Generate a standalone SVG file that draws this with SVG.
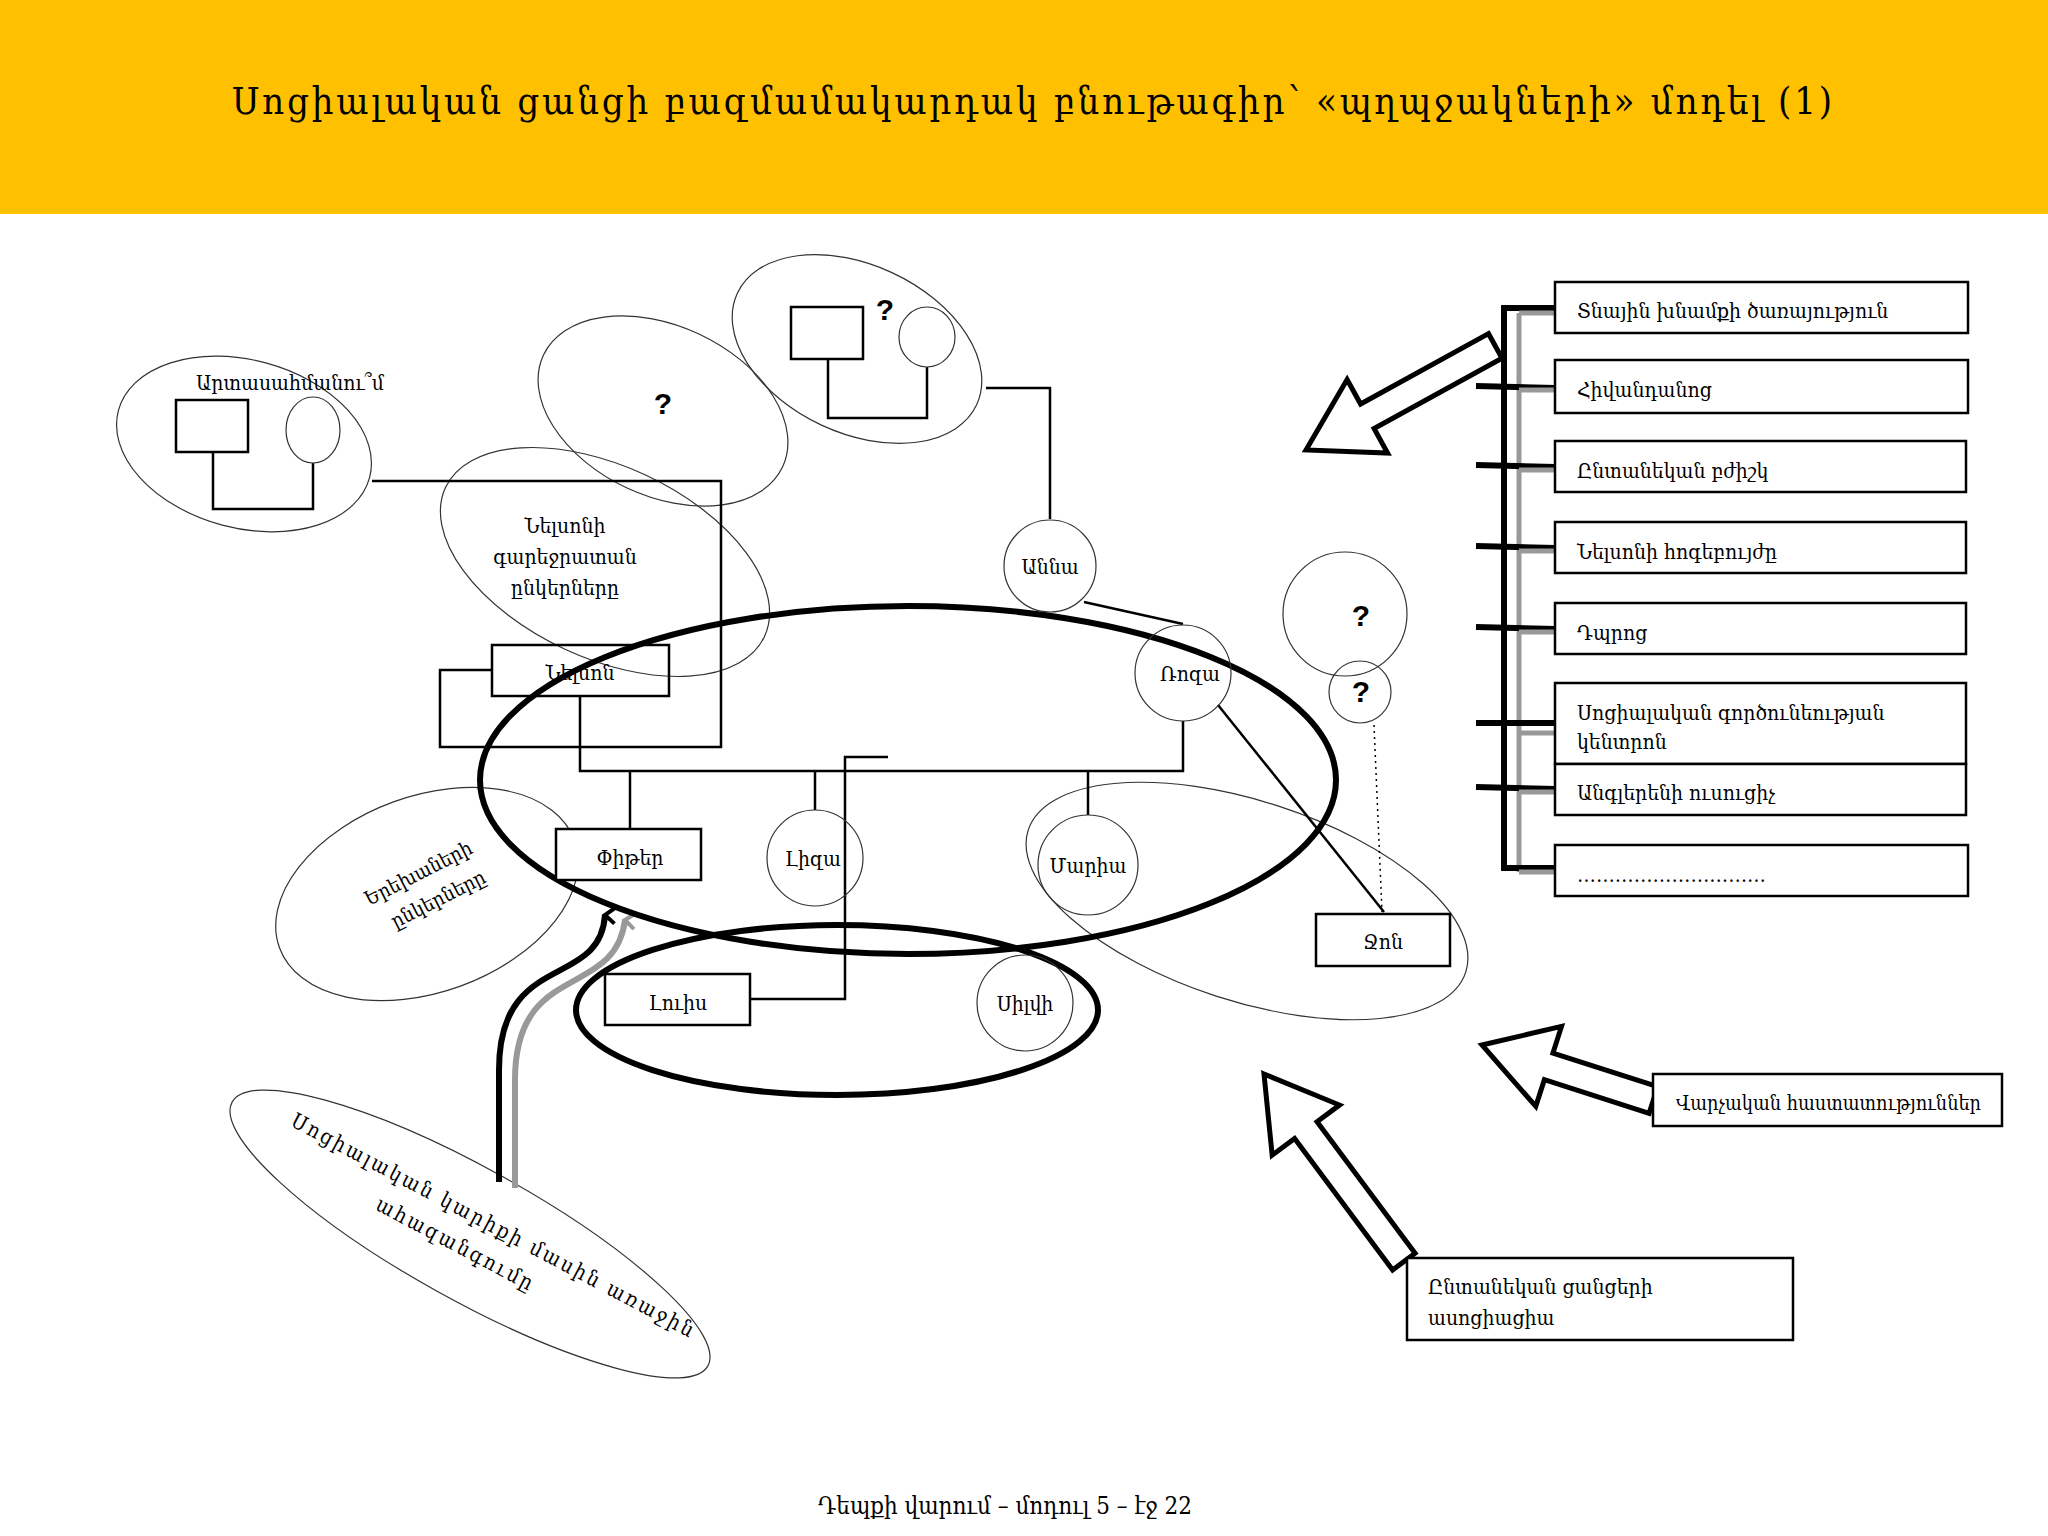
<svg xmlns="http://www.w3.org/2000/svg" width="2048" height="1536" viewBox="0 0 2048 1536">
<style>
.t{font-family:"DejaVu Serif Condensed","DejaVu Serif","Noto Sans",serif;fill:#000}
.thin{fill:none;stroke:#333;stroke-width:1.2}
.ln{fill:none;stroke:#000;stroke-width:2.5}
.bx{fill:#fff;stroke:#000;stroke-width:2.5}
.thick{fill:none;stroke:#000;stroke-width:6}
.blk{fill:#fff;stroke:#000;stroke-width:5;stroke-linejoin:miter}
.q{font-family:"Liberation Sans",Arial,sans-serif;font-weight:bold;font-size:30px}
</style>
<defs>
<marker id="chev" viewBox="0 0 20 20" refX="10" refY="4" markerWidth="20" markerHeight="20" markerUnits="userSpaceOnUse" orient="auto">
<path d="M2,14 L10,4 L18,14" fill="none" stroke="#000" stroke-width="4"/>
</marker>
<marker id="chevg" viewBox="0 0 20 20" refX="10" refY="4" markerWidth="20" markerHeight="20" markerUnits="userSpaceOnUse" orient="auto">
<path d="M2,14 L10,4 L18,14" fill="none" stroke="#999" stroke-width="4"/>
</marker>
</defs>
<rect width="2048" height="1536" fill="#fff"/>
<rect width="2048" height="214" fill="#FFC000"/>
<text class="t" x="1032" y="114" text-anchor="middle" font-size="38" textLength="1600" lengthAdjust="spacing">Սոցիալական ցանցի բազմամակարդակ բնութագիր՝ «պղպջակների» մոդել (1)</text>

<g id="ellipses">
<ellipse class="thin" cx="244" cy="444" rx="130" ry="84" transform="rotate(15 244 444)"/>
<ellipse class="thin" cx="663" cy="411" rx="132" ry="85" transform="rotate(25 663 411)"/>
<ellipse class="thin" cx="857" cy="349" rx="132" ry="84" transform="rotate(25 857 349)"/>
<ellipse class="thin" cx="605" cy="562" rx="176" ry="96" transform="rotate(25 605 562)"/>
<ellipse class="thin" cx="427" cy="894" rx="157" ry="98" transform="rotate(-20 427 894)"/>
<ellipse class="thin" cx="470" cy="1234" rx="272" ry="66" transform="rotate(29 470 1234)"/>
<ellipse class="thin" cx="1247" cy="901" rx="230" ry="100" transform="rotate(18 1247 901)"/>
<circle class="thin" cx="1345" cy="614" r="62"/>
<circle class="thin" cx="1360" cy="692" r="31"/>
</g>

<g id="connectors">
<path class="ln" d="M213,452 V509 H313 V463"/>
<path class="ln" d="M828,359 V418 H927 V367"/>
<path class="ln" d="M986,388 H1050 V519"/>
<path class="ln" d="M1084,602 L1183,624"/>
<path class="ln" d="M1218,705 L1384,912" stroke-width="1.8"/>
<path d="M1374,725 L1382,912" fill="none" stroke="#000" stroke-width="1.5" stroke-dasharray="2,4"/>
<path class="ln" d="M372,481 H721 V747 H440 V670 H492"/>
<path class="ln" d="M580,696 V771 H1183 V721"/>
<path class="ln" d="M630,771 V829"/>
<path class="ln" d="M815,771 V810"/>
<path class="ln" d="M1088,771 V815"/>
<path class="ln" d="M888,757 H845 V999 H750"/>
<path d="M515,1188 V1080 C515,960 615,1000 625,920" fill="none" stroke="#999" stroke-width="6" marker-end="url(#chevg)"/>
<path d="M499,1182 V1070 C499,950 600,990 605,915" fill="none" stroke="#000" stroke-width="6" marker-end="url(#chev)"/>
<path d="M1519,313 V872" fill="none" stroke="#999" stroke-width="5"/>
<path d="M1555,308 H1504 V868 H1555" fill="none" stroke="#000" stroke-width="6"/>
<g stroke="#000" stroke-width="6">
<line x1="1476" y1="386" x2="1555" y2="388"/>
<line x1="1476" y1="465" x2="1555" y2="467"/>
<line x1="1476" y1="546" x2="1555" y2="548"/>
<line x1="1476" y1="627" x2="1555" y2="629"/>
<line x1="1476" y1="723" x2="1555" y2="723"/>
<line x1="1476" y1="787" x2="1555" y2="789"/>
</g>
<g stroke="#999" stroke-width="5">
<line x1="1519" y1="313" x2="1570" y2="313"/>
<line x1="1519" y1="390" x2="1570" y2="390"/>
<line x1="1519" y1="470" x2="1570" y2="470"/>
<line x1="1519" y1="551" x2="1570" y2="551"/>
<line x1="1519" y1="632" x2="1570" y2="632"/>
<line x1="1519" y1="733" x2="1570" y2="733"/>
<line x1="1519" y1="792" x2="1570" y2="792"/>
<line x1="1519" y1="872" x2="1570" y2="872"/>
</g>
<polygon class="blk" points="0,0 70,-42 70,-14 216,-14 216,14 70,14 70,42" transform="translate(1306,450) rotate(-28.8)"/>
<polygon class="blk" points="0,0 70,-42 70,-14 180,-14 180,14 70,14 70,42" transform="translate(1482,1045) rotate(17.8)"/>
<polygon class="blk" points="0,0 70,-42 70,-14 234,-14 234,14 70,14 70,42" transform="translate(1264,1074) rotate(53.3)"/>
</g>

<g id="big-ellipses">
<ellipse class="thick" cx="908" cy="780" rx="428" ry="174"/>
<ellipse class="thick" cx="837" cy="1010" rx="261" ry="85"/>
</g>

<g id="abroad">
<rect class="bx" x="176" y="400" width="72" height="52"/>
<ellipse class="thin" cx="313" cy="430" rx="27" ry="33"/>
<text class="t" x="290" y="390" text-anchor="middle" font-size="21">Արտասահմանու՞մ</text>
</g>
<g id="q1"><text class="q" x="663" y="414" text-anchor="middle">?</text></g>
<g id="q2">
<rect class="bx" x="791" y="307" width="72" height="52"/>
<ellipse class="thin" cx="927" cy="337" rx="28" ry="30"/>
<text class="q" x="885" y="320" text-anchor="middle">?</text>
</g>
<g id="beer"><text class="t" font-size="21" text-anchor="middle"><tspan x="565" y="533">Նելսոնի</tspan><tspan x="565" y="564">գարեջրատան</tspan><tspan x="565" y="595">ընկերները</tspan></text></g>
<g id="nelson"><rect x="492" y="645" width="177" height="51" fill="none" stroke="#000" stroke-width="2.5"/><text class="t" x="580" y="680" text-anchor="middle" font-size="21">Նելսոն</text></g>
<g id="peter"><rect class="bx" x="556" y="829" width="145" height="51"/><text class="t" x="630" y="865" text-anchor="middle" font-size="21">Փիթեր</text></g>
<g id="liza"><circle class="thin" cx="815" cy="858" r="48" fill="#fff"/><text class="t" x="813" y="866" text-anchor="middle" font-size="21">Լիզա</text></g>
<g id="maria"><circle class="thin" cx="1088" cy="865" r="50"/><text class="t" x="1088" y="873" text-anchor="middle" font-size="21">Մարիա</text></g>
<g id="anna"><circle class="thin" cx="1050" cy="566" r="46" fill="#fff"/><text class="t" x="1050" y="574" text-anchor="middle" font-size="21">Աննա</text></g>
<g id="roza"><circle class="thin" cx="1183" cy="673" r="48" fill="#fff"/><text class="t" x="1190" y="681" text-anchor="middle" font-size="21">Ռոզա</text></g>
<g id="qr"><text class="q" x="1361" y="626" text-anchor="middle">?</text><text class="q" x="1361" y="702" text-anchor="middle" font-size="22">?</text></g>
<g id="jon"><rect class="bx" x="1316" y="914" width="134" height="52"/><text class="t" x="1383" y="949" text-anchor="middle" font-size="21">Ջոն</text></g>
<g id="louis"><rect class="bx" x="605" y="974" width="145" height="51"/><text class="t" x="678" y="1010" text-anchor="middle" font-size="21">Լուիս</text></g>
<g id="silvi"><circle class="thin" cx="1025" cy="1003" r="48"/><text class="t" x="1025" y="1011" text-anchor="middle" font-size="21">Սիլվի</text></g>
<g id="kids"><text class="t" font-size="20" text-anchor="middle" transform="rotate(-27 427 890)"><tspan x="427" y="878">Երեխաների</tspan><tspan x="433" y="910">ընկերները</tspan></text></g>
<g id="need"><text class="t" font-size="21" text-anchor="middle" letter-spacing="2.5" transform="rotate(28 470 1228)"><tspan x="490" y="1222">Սոցիալական  կարիքի  մասին  առաջին</tspan><tspan x="465" y="1256">ահազանգումը</tspan></text></g>

<g id="services" font-size="21">
<rect class="bx" x="1555" y="282" width="413" height="51"/><text class="t" x="1577" y="318">Տնային խնամքի ծառայություն</text>
<rect class="bx" x="1555" y="360" width="413" height="53"/><text class="t" x="1577" y="397">Հիվանդանոց</text>
<rect class="bx" x="1555" y="441" width="411" height="51"/><text class="t" x="1577" y="478">Ընտանեկան բժիշկ</text>
<rect class="bx" x="1555" y="522" width="411" height="51"/><text class="t" x="1577" y="559">Նելսոնի հոգեբույժը</text>
<rect class="bx" x="1555" y="603" width="411" height="51"/><text class="t" x="1577" y="640">Դպրոց</text>
<rect class="bx" x="1555" y="683" width="411" height="81"/><text class="t" x="1577" y="720">Սոցիալական գործունեության</text><text class="t" x="1577" y="749">կենտրոն</text>
<rect class="bx" x="1555" y="764" width="411" height="51"/><text class="t" x="1577" y="800">Անգլերենի ուսուցիչ</text>
<rect class="bx" x="1555" y="845" width="413" height="51"/><text class="t" x="1577" y="882">…………………………</text>
</g>
<g id="admin"><rect class="bx" x="1653" y="1074" width="349" height="52"/><text class="t" x="1676" y="1110" font-size="20" textLength="305" lengthAdjust="spacingAndGlyphs">Վարչական հաստատություններ</text></g>
<g id="assoc"><rect class="bx" x="1407" y="1258" width="386" height="82"/><text class="t" x="1428" y="1294" font-size="21">Ընտանեկան ցանցերի</text><text class="t" x="1428" y="1325" font-size="21">ասոցիացիա</text></g>
<text x="1005" y="1514" text-anchor="middle" font-size="24" font-family="DejaVu Serif Condensed, Liberation Sans, sans-serif">Դեպքի վարում – մոդուլ 5 – էջ 22</text>
</svg>
